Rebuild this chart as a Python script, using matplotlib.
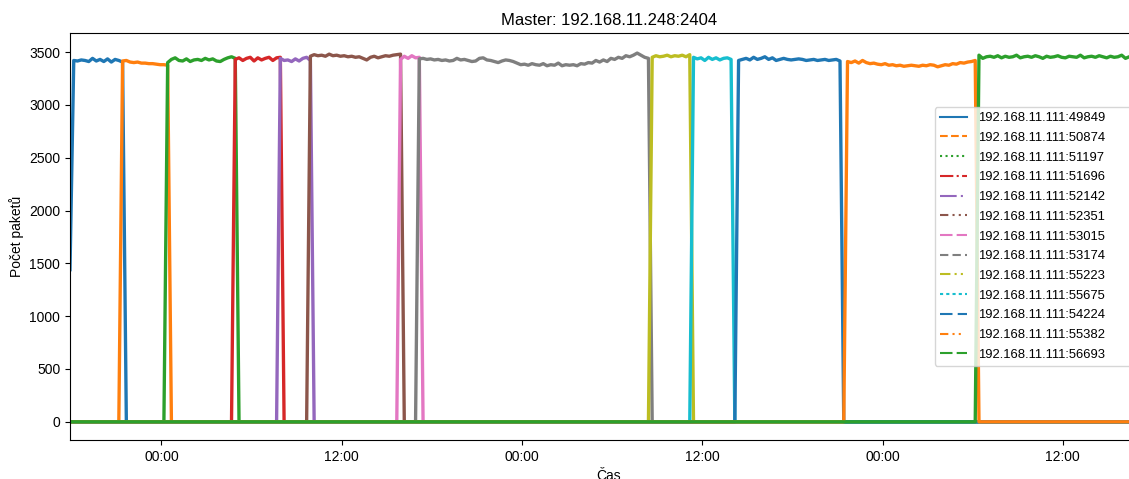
import pandas as pd
import matplotlib
matplotlib.use("Agg")
import matplotlib.pyplot as plt
import matplotlib.dates as mdates
from matplotlib.lines import Line2D

plt.rcParams['font.family'] = ['Liberation Sans', 'DejaVu Sans']

# casova osa: vzorky po 15 minutach
t_start = "2019-03-04 17:55"
t_end = "2019-03-07 17:40"
step = "15min"

ports = ["192.168.11.111:49849", "192.168.11.111:50874", "192.168.11.111:51197",
         "192.168.11.111:51696", "192.168.11.111:52142", "192.168.11.111:52351",
         "192.168.11.111:53015", "192.168.11.111:53174", "192.168.11.111:55223",
         "192.168.11.111:55675", "192.168.11.111:54224", "192.168.11.111:55382",
         "192.168.11.111:56693"]

# zacatek aktivniho spojeni
starts = ["2019-03-04 17:55", "2019-03-04 21:25", "2019-03-05 00:25",
          "2019-03-05 04:55", "2019-03-05 07:55", "2019-03-05 09:55",
          "2019-03-05 15:55", "2019-03-05 17:10", "2019-03-06 08:40",
          "2019-03-06 11:25", "2019-03-06 14:25", "2019-03-06 21:40",
          "2019-03-07 06:25"]

# pocty paketu behem aktivniho spojeni
v_49849 = [1440, 3420, 3415, 3425, 3420, 3410, 3440, 3415, 3430, 3410, 3435, 3405, 3430, 3420, 3405]
v_50874 = [3415, 3420, 3405, 3400, 3405, 3395, 3395, 3390, 3390, 3385, 3380, 3380, 3375]
v_51197 = [3400, 3430, 3445, 3420, 3415, 3435, 3410, 3425, 3430, 3420, 3440, 3425, 3435, 3415,
           3410, 3430, 3445, 3455, 3440]
v_51696 = [3430, 3445, 3420, 3440, 3450, 3415, 3445, 3425, 3440, 3450, 3420, 3445, 3450]
v_52142 = [3440, 3420, 3425, 3410, 3435, 3415, 3440, 3450, 3420]
v_52351 = [3460, 3475, 3465, 3470, 3460, 3480, 3465, 3470, 3460, 3465, 3455, 3460, 3450, 3455,
           3440, 3425, 3450, 3460, 3445, 3455, 3465, 3460, 3470, 3475, 3480]
v_53015 = [3430, 3460, 3440, 3465, 3445, 3450]
v_53174 = [3435, 3440, 3430, 3435, 3425, 3430, 3420, 3425,
           3415, 3420, 3440, 3425, 3430, 3420, 3410, 3415,
           3440, 3445, 3425, 3420, 3410, 3400, 3415, 3425,
           3420, 3410, 3395, 3380, 3385, 3375, 3390, 3380,
           3375, 3390, 3370, 3380, 3375, 3395, 3370, 3380,
           3375, 3380, 3370, 3390, 3385, 3400, 3395, 3420,
           3405, 3425, 3410, 3440, 3430, 3450, 3440, 3465,
           3455, 3470, 3490, 3470, 3450, 3440]
v_55223 = [3450, 3465, 3455, 3460, 3470, 3455, 3465, 3460, 3470, 3455, 3475]
v_55675 = [3450, 3435, 3445, 3420, 3450, 3430, 3445, 3425, 3440, 3445, 3430]
v_54224 = [3420, 3430, 3440, 3425, 3450, 3430, 3440, 3455, 3430, 3445, 3420, 3430, 3440, 3430,
           3425, 3430, 3435, 3430, 3420, 3425, 3430, 3420, 3425, 3430, 3420, 3425, 3430, 3415]
v_55382 = [3410, 3400, 3415, 3395, 3420, 3400, 3390, 3395, 3385, 3380, 3390, 3375, 3380, 3370,
           3375, 3365, 3370, 3375, 3370, 3365, 3375, 3370, 3380, 3375, 3360, 3370, 3380, 3375,
           3390, 3385, 3400, 3395, 3405, 3410, 3420]
v_56693 = [3470, 3440, 3455, 3460, 3450, 3465, 3445, 3460, 3450, 3455, 3470, 3445, 3455, 3460,
           3450, 3465, 3455, 3440, 3460, 3450, 3455, 3465, 3450, 3445, 3460, 3455, 3450, 3470,
           3445, 3455, 3460, 3450, 3465, 3455, 3445, 3460, 3450, 3455, 3470, 3440, 3455, 3460,
           3450, 3465, 3440, 3455]

values = [v_49849, v_50874, v_51197, v_51696, v_52142, v_52351, v_53015, v_53174,
          v_55223, v_55675, v_54224, v_55382, v_56693]

colors = ['tab:blue', 'tab:orange', 'tab:green', 'tab:red', 'tab:purple', 'tab:brown',
          'tab:pink', 'tab:gray', 'tab:olive', 'tab:cyan', 'tab:blue', 'tab:orange', 'tab:green']
styles = ['-', '--', ':', '-.', (0, (8, 2, 1, 2)), (0, (4, 2, 1, 2, 1, 2)),
          (0, (6, 2, 6, 2, 1, 2, 1, 2)), (0, (4, 2, 4, 2, 1, 2)), (0, (5, 2, 1, 2, 1, 2, 1, 2)),
          (0, (1.5, 1.5)), (0, (6, 2.5)), (0, (4, 2, 1, 2, 1, 4)), (0, (6, 2, 6, 2, 1, 2))]

idx = pd.date_range(t_start, t_end, freq=step)
df = pd.DataFrame(0.0, index=idx, columns=ports)
for port, s, vals in zip(ports, starts, values):
    rng = pd.date_range(s, periods=len(vals), freq=step)
    rng = rng[rng <= idx[-1]]
    df.loc[rng, port] = vals[:len(rng)]

fig = plt.figure(figsize=(11.29, 4.79), dpi=100)
ax = fig.add_axes([70 / 1129, 1 - 440 / 479, 1078 / 1129, 407 / 479])

for port, c in zip(ports, colors):
    ax.plot(df.index, df[port], color=c, lw=2.4, solid_joinstyle='round')

ax.set_xlim(idx[0], idx[-1])
ax.set_ylim(-172, 3680)
ax.xaxis.set_major_locator(mdates.HourLocator(byhour=[0, 12]))
ax.xaxis.set_major_formatter(mdates.DateFormatter('%H:%M'))
ax.set_yticks(range(0, 3501, 500))

ax.set_title("Master: 192.168.11.248:2404")
ax.set_xlabel("Čas")
ax.set_ylabel("Počet paketů")

# legenda siroka az za pravy okraj obrazku
handles = [Line2D([], [], color=c, ls=st, lw=1.5) for c, st in zip(colors, styles)]
ax.legend(handles, ports, loc='center', mode='expand', fontsize=9.4,
          handlelength=2.1, handletextpad=0.85, labelspacing=0.58,
          bbox_to_anchor=(0.796, 0.0, 0.204, 1.0))

fig.savefig("out.png", dpi=100)
